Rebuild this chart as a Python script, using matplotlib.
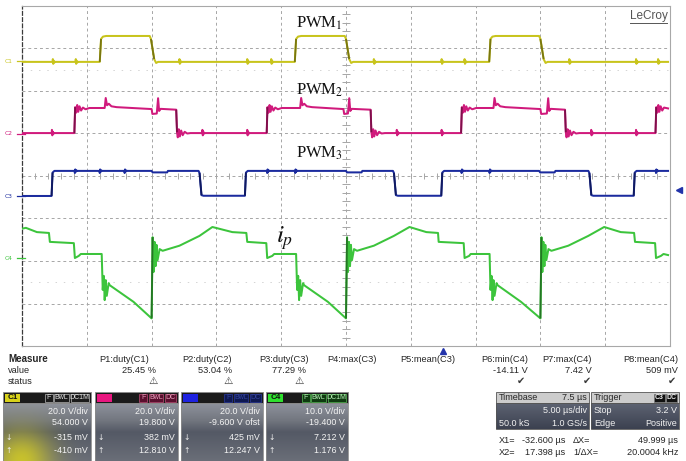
import numpy as np
import matplotlib
matplotlib.use("Agg")
import matplotlib.pyplot as plt
import matplotlib.colors as mcolors
import matplotlib.transforms as mtransforms
from matplotlib.collections import LineCollection
from matplotlib.patches import Rectangle

plt.rcParams["mathtext.fontset"] = "stix"

FIG_W, FIG_H, DPI = 686, 461, 100

# ---------------- acquisition settings ----------------
TIME_PER_DIV_US = 5.0
N_HDIV = 10
N_VDIV = 8
TRIGGER_DELAY_US = 7.5
TRIGGER_LEVEL_V = 3.2
TRIGGER_SOURCE = 2          # C3

CH_NAMES = ["C1", "C2", "C3", "C4"]
CH_COLORS = ["#c8c41c", "#d01a7c", "#1b2b9e", "#3cc43c"]
CH_BADGE_COLORS = ["#d8d21a", "#e8167f", "#1e22e0", "#2ee02e"]
CH_VOLTS_PER_DIV = [20.0, 20.0, 20.0, 10.0]
CH_OFFSET_V = [54.0, 19.8, -9.6, -19.4]
CH_LABELS = [r"PWM$_1$", r"PWM$_2$", r"PWM$_3$", r"$i_p$"]

# ---------------- PWM1 on C1 (time in us, volts) ----------------
C1_T = [0.0, 6.0, 6.1, 6.25, 6.5, 9.85, 9.95, 10.2, 10.35, 10.5,
        21.05, 21.15, 21.3, 21.55, 24.9, 25.0, 25.25, 25.4, 25.55,
        36.05, 36.15, 36.3, 36.55, 39.9, 40.0, 40.25, 40.4, 40.55, 49.85]
C1_V = [-0.3, -0.3, 10.5, 11.6, 11.9, 11.9, 10.5, 1.0, -0.8, -0.3,
        -0.3, 10.5, 11.6, 11.9, 11.9, 10.5, 1.0, -0.8, -0.3,
        -0.3, 10.5, 11.6, 11.9, 11.9, 10.5, 1.0, -0.8, -0.3, -0.3]
C1_GLITCH_T = [2.38, 4.15, 12.15, 17.38, 19.23, 27.15, 32.38, 34.15, 42.23, 47.38, 49.08]

# ---------------- PWM2 on C2 ----------------
C2_T = [0.0,
        4.04, 4.10, 4.18, 4.26, 4.34, 4.44, 4.56, 4.70, 4.90, 5.20, 6.38, 6.46, 6.56, 6.70, 6.90, 7.30, 8.50,
        10.00, 10.06, 10.40, 10.50, 10.58, 10.70, 11.90,
        11.96, 12.02, 12.10, 12.18, 12.28, 12.40, 12.55, 12.75, 13.00,
        18.88, 18.94, 19.02, 19.10, 19.18, 19.28, 19.40, 19.54, 19.74, 20.04, 21.46, 21.54, 21.64, 21.78, 21.98, 22.38, 23.50,
        24.80, 24.86, 25.15, 25.25, 25.33, 25.45, 26.90,
        26.96, 27.02, 27.10, 27.18, 27.28, 27.40, 27.55, 27.75, 28.00,
        33.88, 33.94, 34.02, 34.10, 34.18, 34.28, 34.40, 34.54, 34.74, 35.04, 36.38, 36.46, 36.56, 36.70, 36.90, 37.30, 38.50,
        40.00, 40.06, 40.50, 40.60, 40.68, 40.80, 41.90,
        41.96, 42.02, 42.10, 42.18, 42.28, 42.40, 42.55, 42.75, 43.00,
        48.88, 48.94, 49.02, 49.10, 49.18, 49.28, 49.40, 49.54, 49.85]
C2_V = [0.4,
        0.4, 12.6, 10.0, 13.6, 10.4, 13.0, 11.0, 12.4, 11.6, 12.2, 12.2, 16.9, 13.5, 14.2, 13.0, 12.6, 12.2,
        11.7, 9.4, 9.6, 16.8, 10.8, 11.8, 11.4,
        0.8, -1.6, 2.2, -1.2, 1.6, -0.6, 1.0, 0.2, 0.4,
        0.4, 12.6, 10.0, 13.6, 10.4, 13.0, 11.0, 12.4, 11.6, 12.2, 12.2, 16.9, 13.5, 14.2, 13.0, 12.6, 12.2,
        11.7, 9.4, 9.6, 16.8, 10.8, 11.8, 11.4,
        0.8, -1.6, 2.2, -1.2, 1.6, -0.6, 1.0, 0.2, 0.4,
        0.4, 12.6, 10.0, 13.6, 10.4, 13.0, 11.0, 12.4, 11.6, 12.2, 12.2, 16.9, 13.5, 14.2, 13.0, 12.6, 12.2,
        11.7, 9.4, 9.6, 16.8, 10.8, 11.8, 11.4,
        0.8, -1.6, 2.2, -1.2, 1.6, -0.6, 1.0, 0.2, 0.4,
        0.4, 12.6, 10.0, 13.6, 10.4, 13.0, 11.0, 12.4, 12.0]
C2_GLITCH_T = [2.31, 13.92, 17.38, 28.92, 32.38, 43.92, 47.38]

# ---------------- PWM3 on C3 ----------------
C3_T = [0.0, 2.28, 2.36, 2.50, 10.00, 10.08, 11.20, 11.26, 13.62, 13.70, 13.85, 14.00,
        17.20, 17.28, 17.42, 25.00, 25.08, 26.20, 26.26, 28.62, 28.70, 28.85, 29.00,
        32.35, 32.43, 32.57, 39.90, 39.98, 41.10, 41.16, 43.70, 43.78, 43.93, 44.08,
        47.20, 47.28, 47.42, 49.85]
C3_V = [0.2, 0.2, 11.2, 12.0, 12.0, 11.3, 11.3, 12.0, 12.0, 11.0, 0.6, 0.3,
        0.3, 11.2, 12.0, 12.0, 11.3, 11.3, 12.0, 12.0, 11.0, 0.6, 0.3,
        0.3, 11.2, 12.0, 12.0, 11.3, 11.3, 12.0, 12.0, 11.0, 0.6, 0.3,
        0.3, 11.2, 12.0, 12.0]
C3_GLITCH_T = [4.08, 6.0, 7.92, 18.92, 21.08, 33.92, 36.08, 48.92]

# ---------------- primary current on C4 ----------------
C4_T = [0.00, 0.30, 1.15, 2.08, 2.15, 4.00, 4.08, 4.38, 4.54, 6.15,
        6.23, 6.31, 6.38, 6.46, 6.54, 6.69, 6.77, 8.60, 10.00,
        10.08, 10.15, 10.23, 10.31, 10.38, 10.46, 10.62, 10.85, 12.15, 13.69, 14.69, 16.23, 17.31, 17.38, 18.85, 18.92, 19.31, 19.46, 21.15,
        21.23, 21.31, 21.38, 21.46, 21.54, 21.69, 21.77, 23.60, 25.00,
        25.08, 25.15, 25.23, 25.31, 25.38, 25.46, 25.62, 25.85, 27.15, 28.69, 29.90, 31.20, 32.10, 32.15, 34.08, 34.15, 34.50, 34.62, 36.08,
        36.15, 36.23, 36.31, 36.38, 36.46, 36.62, 36.70, 38.50, 40.00,
        40.08, 40.15, 40.23, 40.31, 40.38, 40.46, 40.62, 40.85, 42.15, 43.69, 44.92, 46.20, 47.23, 47.30, 48.85, 48.92, 49.30, 49.50, 49.85]
C4_V = [7.0, 7.2, 6.2, 6.0, 3.9, 3.6, 0.1, 0.6, 1.05, 1.05,
        -7.4, -4.1, -9.8, -5.1, -8.8, -5.8, -6.3, -10.2, -14.1,
        5.0, -3.2, 3.9, -1.8, 3.2, -0.4, 2.2, 1.8, 3.0, 5.3, 7.4, 6.2, 6.0, 3.9, 3.6, 0.1, 0.6, 1.05, 1.05,
        -7.4, -4.1, -9.8, -5.1, -8.8, -5.8, -6.3, -10.2, -14.1,
        5.0, -3.2, 3.9, -1.8, 3.2, -0.4, 2.2, 1.8, 3.0, 5.3, 7.4, 6.2, 6.0, 3.9, 3.6, 0.1, 0.6, 1.05, 1.05,
        -7.4, -4.1, -9.8, -5.1, -8.8, -5.8, -6.3, -10.2, -14.1,
        5.0, -3.2, 3.9, -1.8, 3.2, -0.4, 2.2, 1.8, 3.0, 5.3, 7.4, 6.2, 6.0, 3.9, 3.6, 0.1, 0.6, 1.05, 0.8]

# ---------------- measurement readout ----------------
MEAS_NAMES = ["P1:duty(C1)", "P2:duty(C2)", "P3:duty(C3)", "P4:max(C3)",
              "P5:mean(C3)", "P6:min(C4)", "P7:max(C4)", "P8:mean(C4)"]
MEAS_VALUES = ["25.45 %", "53.04 %", "77.29 %", "", "", "-14.11 V", "7.42 V", "509 mV"]
MEAS_STATUS = ["warn", "warn", "warn", "", "", "ok", "ok", "ok"]
CURSOR_1 = ["-315 mV", "382 mV", "425 mV", "7.212 V"]
CURSOR_2 = ["-410 mV", "12.810 V", "12.247 V", "1.176 V"]
CH_TAGS = [["F", "BwL", "DC1M"], ["F", "BwL", "DC"], ["F", "BwL", "DC"], ["F", "BwL", "DC1M"]]
TIMEBASE_ROWS = [("Timebase", "7.5 µs"), ("", "5.00 µs/div"), ("50.0 kS", "1.0 GS/s")]
TRIGGER_ROWS = [("Trigger", ""), ("Stop", "3.2 V"), ("Edge", "Positive")]
CURSOR_ROWS = [("X1=", "-32.600 µs", "ΔX=", "49.999 µs"),
               ("X2=", "17.398 µs", "1/ΔX=", "20.0004 kHz")]

# ======================================================================
fig = plt.figure(figsize=(FIG_W / DPI, FIG_H / DPI), dpi=DPI, facecolor="white")

# overlay in pixel coordinates for the readout panel
ov = fig.add_axes([0, 0, 1, 1], zorder=0)
ov.axis("off")

# graticule area
GL, GR, GT, GB = 22, 670, 6, 346
ax = fig.add_axes([GL / FIG_W, 1 - GB / FIG_H, (GR - GL) / FIG_W, (GB - GT) / FIG_H], zorder=2)
t_span = N_HDIV * TIME_PER_DIV_US
ax.set_xlim(0, t_span)
ax.set_ylim(0, N_VDIV)
ax.set_xticks([]); ax.set_yticks([])
ax.set_facecolor("white")
for side in ("top", "right", "bottom"):
    ax.spines[side].set_color("#a8a8a8")
    ax.spines[side].set_linewidth(0.8)
ax.spines["left"].set_color("#3a3a3a")
ax.spines["left"].set_linewidth(0.9)
ax.spines["left"].set_linestyle((0, (3, 2)))

grid_kw = dict(color="#a6a6a6", lw=0.7, ls=(0, (3, 3)), zorder=1)
for i in range(1, N_HDIV):
    ax.axvline(i * TIME_PER_DIV_US, **grid_kw)
for j in range(1, N_VDIV):
    ax.axhline(j, **grid_kw)
for yy in (1.5, 6.5):
    ax.axhline(yy, color="#d4d4d4", lw=0.7, ls=(0, (1.5, 7.0)), zorder=1)

# minor ticks on the centre cross
tc, yc = t_span / 2, N_VDIV / 2
minor = []
for yy in np.arange(0, N_VDIV + 1e-6, 0.2):
    minor.append([(tc - 0.28, yy), (tc + 0.28, yy)])
for tt in np.arange(0, t_span + 1e-6, TIME_PER_DIV_US / 5):
    minor.append([(tt, yc - 0.06), (tt, yc + 0.06)])
ax.add_collection(LineCollection(minor, colors="#a6a6a6", lw=0.7, zorder=1))


def div_of(v, ch):
    return N_VDIV / 2 + (np.asarray(v, float) + CH_OFFSET_V[ch]) / CH_VOLTS_PER_DIV[ch]


GLITCH_DT = np.array([-0.02, 0.0, 0.03, 0.07, 0.12, 0.18])
GLITCH_K = np.array([0.0, 1.0, -0.7, 0.45, -0.2, 0.0])


def with_glitches(t, v, times, amp):
    t = np.asarray(t, float); v = np.asarray(v, float)
    tt, vv = [t], [v]
    for tg in times:
        base = np.interp(tg, t, v)
        tt.append(tg + GLITCH_DT)
        vv.append(base + amp * GLITCH_K)
    tt = np.concatenate(tt); vv = np.concatenate(vv)
    order = np.argsort(tt, kind="stable")
    return tt[order], vv[order]


def draw_trace(t, v, ch):
    t = np.asarray(t, float); v = np.asarray(v, float)
    y = div_of(v, ch)
    color = CH_COLORS[ch]
    ax.plot(t, y, color=color, lw=1.45, solid_joinstyle="round", zorder=5)
    swing = v.max() - v.min()
    steep = np.where(np.abs(np.diff(v)) > 0.5 * swing)[0]
    segs = [[(t[i], y[i]), (t[i + 1], y[i + 1])] for i in steep]
    dark = tuple(0.6 * np.array(mcolors.to_rgb(color)))
    ax.add_collection(LineCollection(segs, colors=[dark], lw=1.3, zorder=6))


traces = [with_glitches(C1_T, C1_V, C1_GLITCH_T, 1.3),
          with_glitches(C2_T, C2_V, C2_GLITCH_T, 1.5),
          with_glitches(C3_T, C3_V, C3_GLITCH_T, -1.0),
          (C4_T, C4_V)]
for ch, (t, v) in enumerate(traces):
    draw_trace(t, v, ch)

# trace captions
LABEL_XY = [(0.423, 0.948), (0.423, 0.753), (0.423, 0.568), (0.392, 0.318)]
for ch, (lx, ly) in enumerate(LABEL_XY):
    if ch < 3:
        ax.text(lx, ly, CH_LABELS[ch], transform=ax.transAxes, ha="left", va="center",
                fontsize=12, family="Liberation Serif", color="#111111", zorder=8)
    else:
        ax.text(lx, ly, CH_LABELS[ch], transform=ax.transAxes, ha="left", va="center",
                fontsize=18, color="#111111", zorder=8)

# channel ground markers on the left edge
blend = mtransforms.blended_transform_factory(ax.transAxes, ax.transData)
for ch in range(4):
    g = div_of(0.0, ch)
    ax.text(-0.021, g, CH_NAMES[ch], transform=blend, ha="center", va="center",
            fontsize=4.3, color=CH_COLORS[ch], zorder=8, clip_on=False)
    ax.plot([-0.007, 0.004], [g, g], transform=blend, color=CH_COLORS[ch],
            lw=0.9, clip_on=False, zorder=8)

# trigger position and level markers
ax.plot([t_span / 2 + TRIGGER_DELAY_US], [-0.12], marker="^", ms=4.5, color="#2233aa",
        clip_on=False, zorder=8)
ax.plot([1.014], [div_of(TRIGGER_LEVEL_V, TRIGGER_SOURCE)], marker="<", ms=4.5,
        color="#2233aa", transform=blend, clip_on=False, zorder=8)

# brand mark
brand = ax.text(0.996, 0.972, "LeCroy", transform=ax.transAxes, ha="right", va="center",
                fontsize=8.5, family="Liberation Sans", color="#555555", zorder=8)

# ======================================================================
# readout panel
PANEL_FONT = "Liberation Sans"
TXT = "#262626"


def ptext(x, y, s, ha="left", size=6.0, color=TXT, weight="normal", family=PANEL_FONT):
    ov.text(x, y, s, ha=ha, va="center", fontsize=size, color=color,
            fontweight=weight, family=family, zorder=6)


def gradient(x0, x1, y0, y1, stops, glow=None):
    ny, nx = 64, 48
    yy = np.linspace(0, 1, ny)
    pos = [p for p, _ in stops]
    cols = np.array([mcolors.to_rgb(c) for _, c in stops])
    img = np.zeros((ny, nx, 3))
    for k in range(3):
        img[:, :, k] = np.interp(yy, pos, cols[:, k])[:, None]
    if glow is not None:
        gx, gy, r, gcol = glow
        X, Y = np.meshgrid(np.linspace(x0, x1, nx), np.linspace(y0, y1, ny))
        w = np.exp(-((X - gx) ** 2 + (Y - gy) ** 2) / (2 * r ** 2))[:, :, None] * 0.85
        img = img * (1 - w) + np.array(mcolors.to_rgb(gcol)) * w
    ov.imshow(img, extent=(x0, x1, y1, y0), aspect="auto", interpolation="bilinear", zorder=1)


ptext(8, 359, "Measure", weight="bold", size=7.0)
ptext(8, 370, "value", size=6.6)
ptext(8, 381, "status", size=6.6)
NAME_RIGHT = [149, 232, 309, 377, 455, 528, 592, 678]
VALUE_RIGHT = [156, 232, 306, 377, 455, 528, 592, 678]
STATUS_X = [153, 228, 299, 0, 0, 521, 587, 672]
for name, val, st, xn, xv, xs in zip(MEAS_NAMES, MEAS_VALUES, MEAS_STATUS,
                                     NAME_RIGHT, VALUE_RIGHT, STATUS_X):
    ptext(xn, 359, name, ha="right", size=6.7)
    if val:
        ptext(xv, 370, val, ha="right", size=6.7)
    if st == "warn":
        ptext(xs, 381, "⚠", ha="center", family="DejaVu Sans", size=7.5, color="#333333")
    elif st == "ok":
        ptext(xs, 381, "✔", ha="center", family="DejaVu Sans", size=7.0, color="#3a3a3a")

BOX_X = [(3, 91), (95, 178), (181, 263), (266, 348)]
BOX_TOP, HEAD_BOT, BOX_BOT = 392, 403, 461
TAG_STYLE = [("#1b1b1b", "#b8b8b8", "#e0e0e0"),
             ("#5a0f2e", "#c0507a", "#e8a0bc"),
             ("#0e1850", "#2a3aa0", "#34449c"),
             ("#0f3a10", "#58c058", "#b8f0b8")]
BODY_STOPS = [(0.0, "#8e929c"), (0.3, "#72767f"), (0.5, "#545965"), (1.0, "#6a6e78")]
for ch, (x0, x1) in enumerate(BOX_X):
    ov.add_patch(Rectangle((x0, BOX_TOP), x1 - x0, HEAD_BOT - BOX_TOP, fc="#1b1b1b",
                           ec="#8a8a8a", lw=0.6, zorder=2))
    ov.add_patch(Rectangle((x0 + 2, BOX_TOP + 1.5), 15, HEAD_BOT - BOX_TOP - 3,
                           fc=CH_BADGE_COLORS[ch], ec="none", zorder=3))
    if ch in (0, 3):
        ptext(x0 + 9.5, (BOX_TOP + HEAD_BOT) / 2, CH_NAMES[ch], ha="center", size=5.8,
              color="#111111", weight="bold")
    fc, ec, tcol = TAG_STYLE[ch]
    xr = x1 - 2
    for tag in reversed(CH_TAGS[ch]):
        w = 4 + 3.6 * len(tag)
        ov.add_patch(Rectangle((xr - w, BOX_TOP + 1.5), w, HEAD_BOT - BOX_TOP - 3,
                               fc=fc, ec=ec, lw=0.5, zorder=3))
        ptext(xr - w / 2, (BOX_TOP + HEAD_BOT) / 2, tag, ha="center", size=5.0, color=tcol)
        xr -= w + 1.5
    glow = (x0 + 18, BOX_BOT, 22, "#d8d020") if ch == 0 else None
    gradient(x0, x1, HEAD_BOT, BOX_BOT, BODY_STOPS, glow)
    ov.add_patch(Rectangle((x0, HEAD_BOT), x1 - x0, BOX_BOT - HEAD_BOT, fc="none",
                           ec="#8a8a8a", lw=0.6, zorder=2))
    scale_txt = f"{CH_VOLTS_PER_DIV[ch]:.1f} V/div"
    off_txt = f"{CH_OFFSET_V[ch]:.3f} V" + (" ofst" if ch == 2 else "")
    rows = [scale_txt, off_txt, CURSOR_1[ch], CURSOR_2[ch]]
    for ry, s in zip([411, 422, 437, 450], rows):
        ptext(x1 - 3, ry, s, ha="right", color="#f4f4f4", size=6.4)
    ptext(x0 + 6, 437, "↓", ha="center", color="#f0f0f0", size=5.5, family="DejaVu Sans")
    ptext(x0 + 6, 450, "↑", ha="center", color="#f0f0f0", size=5.5, family="DejaVu Sans")

# timebase / trigger boxes
for (bx0, bx1, rows) in [(496, 589, TIMEBASE_ROWS), (591, 679, TRIGGER_ROWS)]:
    ov.add_patch(Rectangle((bx0, BOX_TOP), bx1 - bx0, 11, fc="#cccccc", ec="#555555",
                           lw=0.6, zorder=2))
    gradient(bx0, bx1, BOX_TOP + 11, 429, [(0.0, "#5d6372"), (1.0, "#3c4150")])
    ov.add_patch(Rectangle((bx0, BOX_TOP + 11), bx1 - bx0, 429 - BOX_TOP - 11, fc="none",
                           ec="#555555", lw=0.6, zorder=2))
    for k, (lt, rt) in enumerate(rows):
        yy = [397.5, 410, 423][k]
        col = TXT if k == 0 else "#f2f2f2"
        if lt:
            ptext(bx0 + 3, yy, lt, color=col, size=6.5)
        if rt:
            ptext(bx1 - 2, yy, rt, ha="right", color=col, size=6.5)
# trigger source badge
xr = 677
for tag in ["DC", CH_NAMES[TRIGGER_SOURCE]]:
    w = 4 + 3.6 * len(tag)
    ov.add_patch(Rectangle((xr - w, BOX_TOP + 1.5), w, 8, fc="#111111", ec="#777777",
                           lw=0.5, zorder=3))
    ptext(xr - w / 2, 397.5, tag, ha="center", size=5.0, color="#f0f0f0", weight="bold")
    xr -= w + 1

for k, (a, b, c, d) in enumerate(CURSOR_ROWS):
    yy = [440, 452][k]
    ptext(499, yy, a, size=6.6)
    ptext(565, yy, b, ha="right", size=6.6)
    ptext(573, yy, c, size=6.6)
    ptext(678, yy, d, ha="right", size=6.6)

ov.set_xlim(0, FIG_W)
ov.set_ylim(FIG_H, 0)

# underline the brand mark
fig.canvas.draw()
bb = brand.get_window_extent()
fig.add_artist(plt.Line2D([bb.x0 / FIG_W, bb.x1 / FIG_W],
                          [(bb.y0 - 1) / FIG_H, (bb.y0 - 1) / FIG_H],
                          color="#555555", lw=0.7, zorder=9))

fig.savefig("out.png", dpi=DPI, facecolor="white")
